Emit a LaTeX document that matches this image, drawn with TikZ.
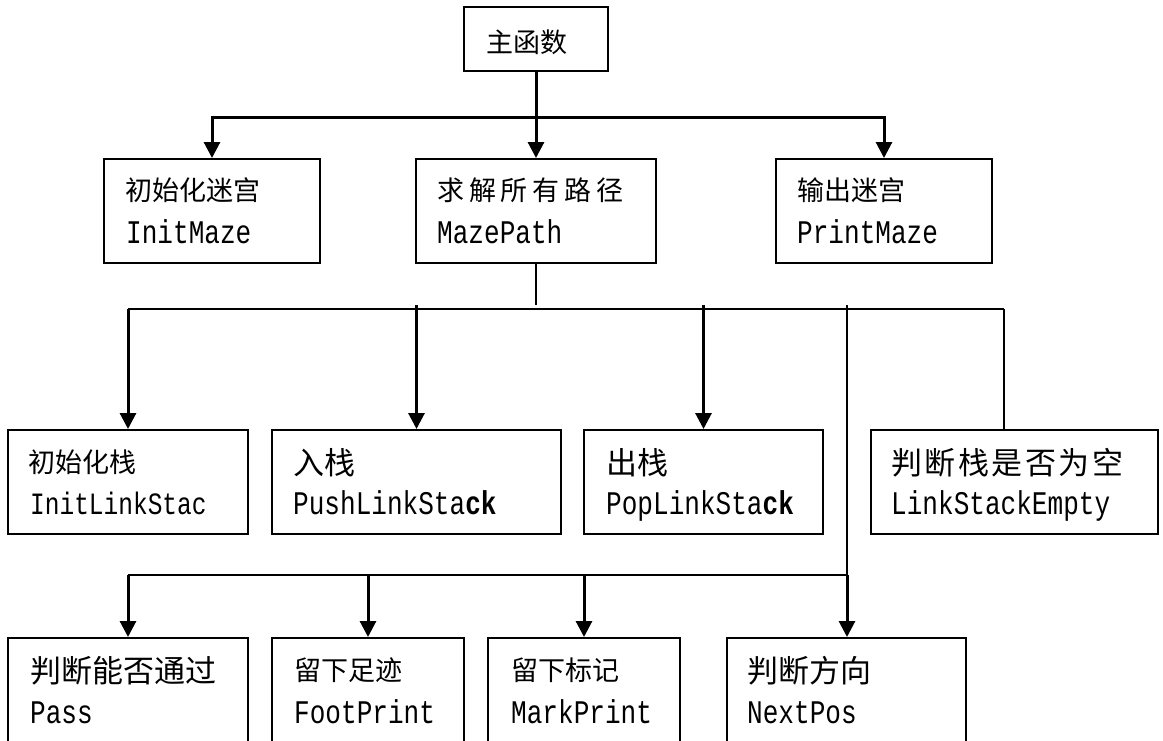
\documentclass[tikz,border=0pt]{standalone}
\usepackage{fontspec}
\usetikzlibrary{arrows.meta}
\newfontfamily\cjk{Noto Sans CJK SC}
\newfontfamily\cjkls[LetterSpace=18]{Noto Sans CJK SC}
\newfontfamily\cjklt[LetterSpace=8]{Noto Sans CJK SC}
\newfontfamily\lat[FakeStretch=0.79]{Liberation Mono}
\tikzset{
  box/.style={draw=black, line width=2pt, rectangle, inner sep=0pt},
  tA/.style={anchor=base west, inner sep=0pt, font=\cjk\fontsize{27}{30}\selectfont},
  tB/.style={anchor=base west, inner sep=0pt, font=\cjk\fontsize{31}{34}\selectfont},
  tL/.style={anchor=base west, inner sep=0pt, font=\lat\fontsize{33}{35}\selectfont},
  arr/.style={line width=3pt, -{Triangle[width=16pt,length=16pt]}},
  hline/.style={line width=2.8pt},
  thinline/.style={line width=1.6pt},
}
\begin{document}
\begin{tikzpicture}[x=1pt,y=-1pt]
\useasboundingbox (0,0) rectangle (1163,740);
\clip (0,0) rectangle (1163,740);
% boxes
\node[box, minimum width=144pt, minimum height=64pt] (main) at (536,39) {};
\node[box, minimum width=216pt, minimum height=104pt] (b1) at (212,211) {};
\node[box, minimum width=240pt, minimum height=104pt] (b2) at (536,211) {};
\node[box, minimum width=216pt, minimum height=104pt] (b3) at (884,211) {};
\node[box, minimum width=240pt, minimum height=104pt] (c1) at (128,482) {};
\node[box, minimum width=289pt, minimum height=104pt] (c2) at (416.5,482) {};
\node[box, minimum width=239pt, minimum height=104pt] (c3) at (703.5,482) {};
\node[box, minimum width=287pt, minimum height=104pt] (c4) at (1014.5,482) {};
\node[box, minimum width=240pt, minimum height=122pt] (d1) at (128,699) {};
\node[box, minimum width=192pt, minimum height=122pt] (d2) at (368,699) {};
\node[box, minimum width=192pt, minimum height=122pt] (d3) at (584,699) {};
\node[box, minimum width=239pt, minimum height=122pt] (d4) at (846.5,699) {};
% texts
\node[tA] (tmain) at (486,52) {主函数};
\node[tA] (t1a) at (125,200) {初始化迷宫};
\node[tL] (t1b) at (126,243) {InitMaze};
\node[tA, font=\cjkls\fontsize{27}{30}\selectfont] (t2a) at (437,200) {求解所有路径};
\node[tL] (t2b) at (437,243) {MazePath};
\node[tA] (t3a) at (797,200) {输出迷宫};
\node[tL] (t3b) at (797,243) {PrintMaze};
\node[tA] (u1a) at (28,472) {初始化栈};
\node[tL, font=\lat\fontsize{31}{33}\selectfont] (u1b) at (30,514) {InitLinkStac};
\node[tB] (u2a) at (293,474) {入栈};
\node[tL] (u2b) at (293,514) {PushLinkSta{\bfseries ck}};
\node[tB] (u3a) at (606,474) {出栈};
\node[tL] (u3b) at (606,514) {PopLinkSta{\bfseries ck}};
\node[tB, font=\cjklt\fontsize{31}{34}\selectfont] (u4a) at (891,474) {判断栈是否为空};
\node[tL] (u4b) at (891,514) {LinkStackEmpty};
\node[tB] (v1a) at (30,682) {判断能否通过};
\node[tL] (v1b) at (30,723) {Pass};
\node[tA] (v2a) at (294,680) {留下足迹};
\node[tL] (v2b) at (294,723) {FootPrint};
\node[tA] (v3a) at (511,680) {留下标记};
\node[tL] (v3b) at (511,723) {MarkPrint};
\node[tB] (v4a) at (747,682) {判断方向};
\node[tL] (v4b) at (747,723) {NextPos};
% level 1 connectors
\coordinate (j1) at (536,117);
\draw[arr] (main.south) -- (b2.north);
\draw[arr] (j1) -| (b1.north);
\draw[arr] (j1) -| (b3.north);
% level 2 connectors
\coordinate (s2) at (536,305);
\coordinate (h2l) at (128,309);
\coordinate (h2r) at (1004,309);
\coordinate (p2) at (416.5,305);
\coordinate (p3) at (703.5,305);
\coordinate (q1) at (847,305);
\coordinate (q2) at (847,575);
\draw[thinline] (b2.south) -- (s2);
\draw[hline] (h2l) -- (h2r);
\draw[hline] (h2r) -- (h2r |- c4.north);
\draw[arr] (h2l) -- (c1.north);
\draw[arr] (p2) -- (c2.north);
\draw[arr] (p3) -- (c3.north);
\draw[thinline] (q1) -- (q2);
\draw[arr] (q2) -- (q2 |- d4.north);
% level 3 connectors
\coordinate (h3l) at (128,575);
\coordinate (h3m) at (704,575);
\draw[hline] (h3l) -- (h3m);
\draw[thinline] (h3m) -- (q2);
\draw[arr] (h3l) -- (d1.north);
\draw[arr] (d2.north |- h3l) -- (d2.north);
\draw[arr] (d3.north |- h3l) -- (d3.north);
\end{tikzpicture}
\end{document}
